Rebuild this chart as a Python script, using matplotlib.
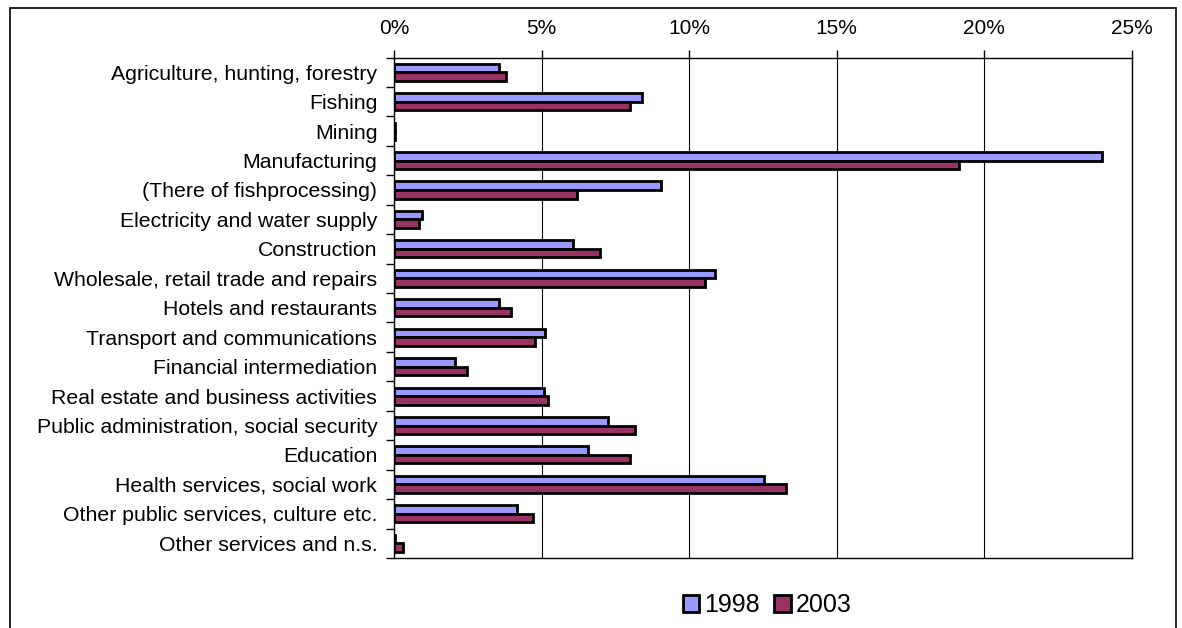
import numpy as np
import matplotlib
matplotlib.use("Agg")
import matplotlib.pyplot as plt
from matplotlib.patches import Rectangle
from matplotlib.ticker import FuncFormatter, MultipleLocator

plt.rcParams['font.family'] = ['Liberation Sans', 'DejaVu Sans']

sectors = [
    "Agriculture, hunting, forestry",
    "Fishing",
    "Mining",
    "Manufacturing",
    "(There of fishprocessing)",
    "Electricity and water supply",
    "Construction",
    "Wholesale, retail trade and repairs",
    "Hotels and restaurants",
    "Transport and communications",
    "Financial intermediation",
    "Real estate and business activities",
    "Public administration, social security",
    "Education",
    "Health services, social work",
    "Other public services, culture etc.",
    "Other services and n.s.",
]
share_1998 = [3.57, 8.40, 0.05, 23.97, 9.05, 0.95, 6.06, 10.86, 3.57, 5.11,
              2.08, 5.07, 7.24, 6.57, 12.53, 4.18, 0.05]
share_2003 = [3.80, 7.98, 0.05, 19.15, 6.19, 0.85, 6.98, 10.53, 3.96, 4.76,
              2.46, 5.23, 8.18, 7.99, 13.27, 4.72, 0.32]
years = ["1998", "2003"]
colors = ["#9999FF", "#993366"]

W, H = 1182, 628
fig = plt.figure(figsize=(W / 100, H / 100), dpi=100)
ax = fig.add_axes([394 / W, 1 - 558 / H, (1132 - 394) / W, (558 - 57.5) / H])

y = np.arange(len(sectors))
h = 0.29
ax.barh(y - h / 2, share_1998, height=h, color=colors[0], edgecolor="black",
        linewidth=2, label=years[0], zorder=3)
ax.barh(y + h / 2, share_2003, height=h, color=colors[1], edgecolor="black",
        linewidth=2, label=years[1], zorder=3)

ax.set_xlim(0, 25)
ax.set_ylim(len(sectors) - 0.5, -0.5)
ax.xaxis.set_major_locator(MultipleLocator(5))
ax.xaxis.set_major_formatter(FuncFormatter(lambda v, p: "%d%%" % v))
ax.xaxis.tick_top()
ax.tick_params(axis="x", direction="out", length=6, width=1, pad=8,
               labelsize=15, colors="black")
ax.grid(axis="x", color="black", linewidth=0.8, zorder=0)

ax.set_yticks(y)
ax.set_yticklabels(sectors)
ax.set_yticks(np.arange(len(sectors) + 1) - 0.5, minor=True)
ax.tick_params(axis="y", which="major", length=0, pad=12, labelsize=15.3)
ax.tick_params(axis="y", which="minor", length=6, width=1, direction="out")

for s in ax.spines.values():
    s.set_color("black")
    s.set_linewidth(1)

ax.legend(loc="center", bbox_to_anchor=(767 / W, 1 - 605 / H),
          bbox_transform=fig.transFigure, ncol=2, frameon=False, fontsize=18,
          handlelength=0.65, handleheight=0.65, handletextpad=0.2,
          columnspacing=0.6, borderaxespad=0, borderpad=0)

# outer chart frame, open at the bottom edge
fig.patches.append(Rectangle((10 / W, -0.05), (1176 - 10) / W, 1.05 - 8 / H,
                             transform=fig.transFigure, fill=False,
                             edgecolor="black", linewidth=1.2))

fig.savefig("out.png", dpi=100)
